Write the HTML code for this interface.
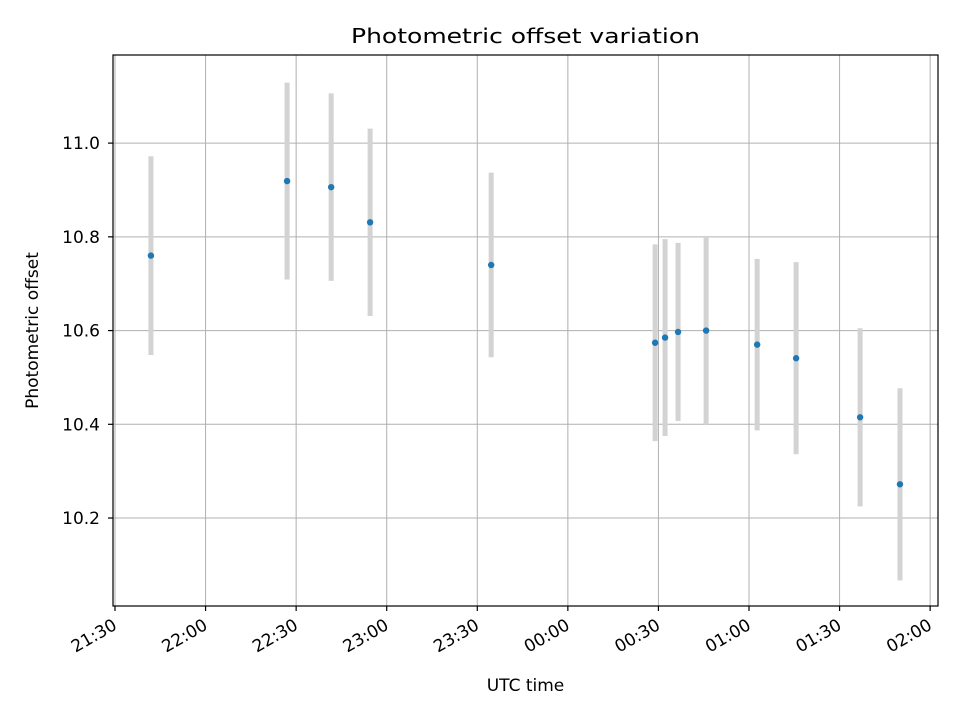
<!DOCTYPE html>
<html><head><meta charset="utf-8"><style>body{margin:0;background:#fff}svg{font-family:"DejaVu Sans","Liberation Sans",sans-serif}</style></head>
<body>
<svg id="chart" width="960" height="720"></svg>
<script>
const times=["21:42","22:27","22:41.6","22:54.5","23:34.6","00:28.9","00:32.2","00:36.5","00:45.8","01:02.7","01:15.6","01:36.8","01:50"];
const minutes=[11.9,57,71.6,84.5,124.6,178.9,182.2,186.5,195.8,212.7,225.6,246.8,260];
const values=[10.76,10.919,10.906,10.831,10.74,10.574,10.585,10.597,10.6,10.57,10.541,10.415,10.272];
const errors=[0.212,0.21,0.2,0.2,0.197,0.21,0.21,0.19,0.2,0.183,0.205,0.19,0.205];
const yTicks=[10.2,10.4,10.6,10.8,11.0];
const xTickMinutes=[0,30,60,90,120,150,180,210,240,270];
const xTickLabels=["21:30","22:00","22:30","23:00","23:30","00:00","00:30","01:00","01:30","02:00"];
const L=113,R=938,T=55,B=606,xmin=-0.66,xmax=272.6,ymin=10.0123,ymax=11.188;
const sx=m=>L+(m-xmin)/(xmax-xmin)*(R-L);
const sy=v=>B-(v-ymin)/(ymax-ymin)*(B-T);
const svg=document.getElementById('chart');const NS='http://www.w3.org/2000/svg';
function mk(t,a,txt){const e=document.createElementNS(NS,t);for(const k in a)e.setAttribute(k,a[k]);if(txt!==undefined)e.textContent=txt;svg.appendChild(e);return e;}
yTicks.forEach(v=>{const y=sy(v);
const g=mk('line',{x1:L,x2:R,y1:y,y2:y,stroke:'#b0b0b0','stroke-width':1});

mk('line',{x1:L-5,x2:L,y1:y,y2:y,stroke:'#000','stroke-width':1.2});
const t=mk('text',{x:L-13,y:y+6,'text-anchor':'end','font-size':17},v.toFixed(1));
});
xTickMinutes.forEach((m,i)=>{const x=sx(m);
const g=mk('line',{x1:x,x2:x,y1:T,y2:B,stroke:'#b0b0b0','stroke-width':1});

mk('line',{x1:x,x2:x,y1:B,y2:B+5,stroke:'#000','stroke-width':1.2});
const ax=x-3,ay=B+12;
const t=mk('text',{x:ax,y:ay,'text-anchor':'end','dominant-baseline':'hanging','font-size':17,transform:`rotate(-30 ${ax} ${ay})`},xTickLabels[i]);
});
minutes.forEach((m,i)=>{const x=sx(m);
const e=mk('line',{x1:x,x2:x,y1:sy(values[i]+errors[i]),y2:sy(values[i]-errors[i]),stroke:'#d3d3d3','stroke-width':5});
});
minutes.forEach((m,i)=>{const c=mk('circle',{cx:sx(m),cy:sy(values[i]),r:3.2,fill:'#1f77b4'});
});
const f=mk('rect',{x:L,y:T,width:R-L,height:B-T,fill:'none',stroke:'#000','stroke-width':1.2});

const ti=mk('text',{x:(L+R)/2,y:43,'text-anchor':'middle','font-size':20,textLength:349,lengthAdjust:'spacingAndGlyphs'},'Photometric offset variation');

const xl=mk('text',{x:(L+R)/2,y:691,'text-anchor':'middle','font-size':17},'UTC time');

const yl=mk('text',{x:38,y:(T+B)/2,'text-anchor':'middle','font-size':17,transform:`rotate(-90 38 ${(T+B)/2})`},'Photometric offset');

</script>
</body></html>
